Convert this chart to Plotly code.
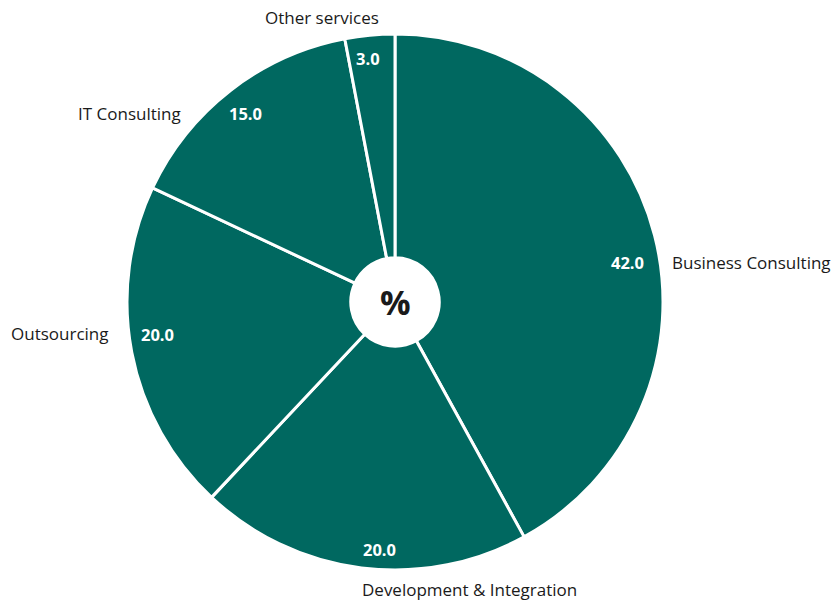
import math
import plotly.graph_objects as go

# ---- data ----
categories = ["Business Consulting", "Development & Integration", "Outsourcing",
              "IT Consulting", "Other services"]
values = [42.0, 20.0, 20.0, 15.0, 3.0]
center_label = "%"

# ---- layout constants ----
W, H = 833, 605
CX, CY, R = 395, 302, 268          # pie centre / radius in pixels
TEAL = "rgb(0,104,96)"
FONT = "Open Sans"
# per-slice text placement: (value radius frac, value angle nudge, label radius frac, label angle nudge, xanchor)
placement = {
    "Business Consulting":       (0.88, 4.7, 1.035, 6.2, "left"),
    "Development & Integration": (0.927, -3.7, 1.11, -21.8, "center"),
    "Outsourcing":               (0.896, 3.1, 1.066, 4.4, "right"),
    "IT Consulting":             (0.898, -0.5, 1.06, -10.5, "right"),
    "Other services":            (0.914, -0.9, 1.097, -8.9, "center"),
}

dom_x = [(CX - R) / W, (CX + R) / W]
dom_y = [1 - (CY + R) / H, 1 - (CY - R) / H]

fig = go.Figure(go.Pie(
    labels=categories, values=values, sort=False, direction="clockwise",
    rotation=0, hole=0.165, textinfo="none", hoverinfo="label+value",
    marker=dict(colors=[TEAL] * len(values), line=dict(color="white", width=3)),
    domain=dict(x=dom_x, y=dom_y), showlegend=False,
))


def to_paper(angle_deg, rfrac):
    a = math.radians(angle_deg)
    px = CX + rfrac * R * math.sin(a)
    py = CY - rfrac * R * math.cos(a)
    return px / W, 1 - py / H


total = sum(values)
cum = 0.0
annotations = []
for cat, v in zip(categories, values):
    mid = (cum + v / 2) / total * 360
    cum += v
    vr, va, lr, la, anchor = placement[cat]
    x, y = to_paper(mid + va, vr)
    annotations.append(dict(x=x, y=y, xref="paper", yref="paper", text=f"<b>{v:.1f}</b>",
                            showarrow=False, xanchor="center", yanchor="middle",
                            font=dict(family=FONT, size=16.5, color="white")))
    x, y = to_paper(mid + la, lr)
    annotations.append(dict(x=x, y=y, xref="paper", yref="paper", text=cat,
                            showarrow=False, xanchor=anchor, yanchor="middle",
                            font=dict(family=FONT, size=17, color="#1a1a1a")))

x, y = to_paper(0, 0)
annotations.append(dict(x=x, y=y, xref="paper", yref="paper", text=f"<b>{center_label}</b>",
                        showarrow=False, xanchor="center", yanchor="middle",
                        font=dict(family=FONT, size=34, color="#1a1a1a")))

fig.update_layout(
    width=W, height=H, margin=dict(l=0, r=0, t=0, b=0),
    paper_bgcolor="white", plot_bgcolor="white", annotations=annotations,
)

fig.write_html("out.html")
